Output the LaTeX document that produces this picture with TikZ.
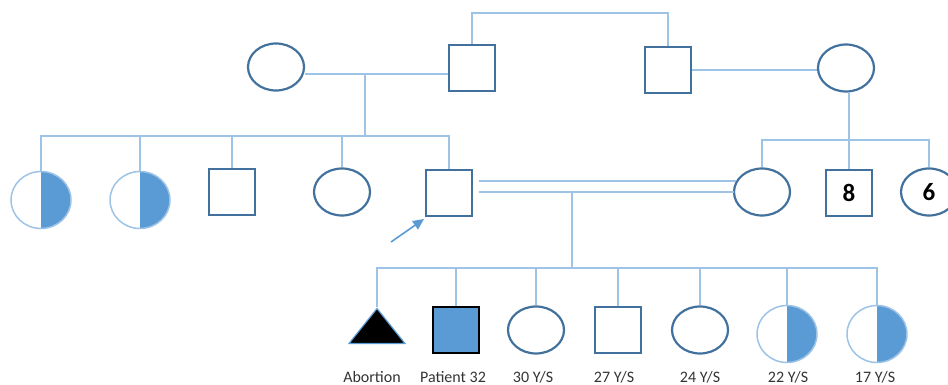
\documentclass[tikz,border=0pt]{standalone}
\usepackage{fontspec}
\setmainfont{Carlito}
\usetikzlibrary{shapes.geometric,arrows.meta}
\definecolor{conn}{RGB}{157,195,230}
\definecolor{outl}{RGB}{65,113,156}
\definecolor{fillb}{RGB}{91,155,213}
\begin{document}
\begin{tikzpicture}[x=1pt,y=-1pt,
  link/.style={draw=conn,line width=2pt},
  male/.style={rectangle,draw=outl,line width=2.2pt,minimum size=46pt,inner sep=0pt,fill=white},
  female/.style={ellipse,draw=outl,line width=2.2pt,minimum width=56pt,minimum height=47pt,inner sep=0pt,fill=white},
  carrier/.style={ellipse,draw=conn,line width=1.5pt,minimum width=60pt,minimum height=57pt,inner sep=0pt,fill=white,
    path picture={\fill[fillb] (path picture bounding box.north) rectangle (path picture bounding box.south east);}},
  patient/.style={rectangle,draw=black,line width=2pt,minimum size=46pt,inner sep=0pt,fill=fillb},
  abort/.style={isosceles triangle,shape border rotate=90,isosceles triangle stretches,minimum width=56pt,minimum height=35pt,inner sep=0pt,fill=black,draw=fillb,line width=1.2pt},
  lab/.style={font=\fontsize{16}{19}\selectfont,text=black!80,anchor=base,inner sep=0pt},
  num/.style={font=\fontsize{25}{28}\selectfont\bfseries}
]
\useasboundingbox (0,0) rectangle (948,385);
% generation I
\node[female] (gm1) at (276,67) {};
\node[male] (gf1) at (472,68) {};
\node[male] (gf2) at (668,70) {};
\node[female] (gm2) at (846,68) {};
% generation II
\node[carrier] (c1) at (41,200) {};
\node[carrier] (c2) at (140,200) {};
\node[male] (c3) at (232,192) {};
\node[female] (c4) at (342,192) {};
\node[male] (fa) at (449,193) {};
\node[female] (mo) at (762,192) {};
\node[male,num] (r8) at (849,193) {8};
\node[female,num] (r6) at (929,192) {6};
% generation III
\node[abort,anchor=apex] (k1) at (377,307) {};
\node[patient] (k2) at (456,330) {};
\node[female] (k3) at (536,330) {};
\node[male] (k4) at (618,330) {};
\node[female] (k5) at (700,330) {};
\node[carrier] (k6) at (787,334) {};
\node[carrier] (k7) at (877,334) {};
% labels
\node[lab] (l1) at (372,382) {Abortion};
\node[lab] (l2) at (453,382) {Patient 32};
\node[lab] (l3) at (533,382) {30 Y/S};
\node[lab] (l4) at (614,382) {27 Y/S};
\node[lab] (l5) at (700,382) {24 Y/S};
\node[lab] (l6) at (788,382) {22 Y/S};
\node[lab] (l7) at (875,382) {17 Y/S};
% coordinates
\coordinate (ptop) at (570,13);
\coordinate (m1) at (365,74);
\coordinate (s1) at (365,136);
\coordinate (s2) at (849,140);
\coordinate (d1) at (572,192);
\coordinate (s3) at (572,268);
\coordinate (arw) at (391,242);
\coordinate (arh) at (424,219);
% connectors gen I
\draw[link] (gf1.north) |- (ptop) -| (gf2.north);
\draw[link] (gm1.east |- m1) -- (gf1.west |- m1);
\draw[link] (m1) -- (s1);
\draw[link] (gf2.east) -- (gf2.east -| gm2.west);
\draw[link] (r8.north |- gm2.south) -- (r8.north);
% sibship II left
\draw[link] (c1.north) |- (s1) -| (fa.north);
\draw[link] (c2.north) -- (c2.north |- s1);
\draw[link] (c3.north) -- (c3.north |- s1);
\draw[link] (c4.north) -- (c4.north |- s1);
% sibship II right
\draw[link] (mo.north) |- (s2) -| (r6.north);
% consanguineous marriage
\draw[link] ([xshift=6pt]fa.east |- 0,181) -- ([xshift=3pt]mo.west |- 0,181);
\draw[link] ([xshift=6pt]fa.east |- d1) -- ([xshift=1pt]mo.west |- d1);
\draw[link] (d1) -- (s3);
% sibship III
\draw[link] (k1.apex) |- (s3) -| (k7.north);
\draw[link] (k2.north) -- (k2.north |- s3);
\draw[link] (k3.north) -- (k3.north |- s3);
\draw[link] (k4.north) -- (k4.north |- s3);
\draw[link] (k5.north) -- (k5.north |- s3);
\draw[link] (k6.north) -- (k6.north |- s3);
% proband arrow
\draw[draw=fillb,line width=1.6pt,-{Triangle[length=11pt,width=10pt]}] (arw) -- (arh);
\end{tikzpicture}
\end{document}
